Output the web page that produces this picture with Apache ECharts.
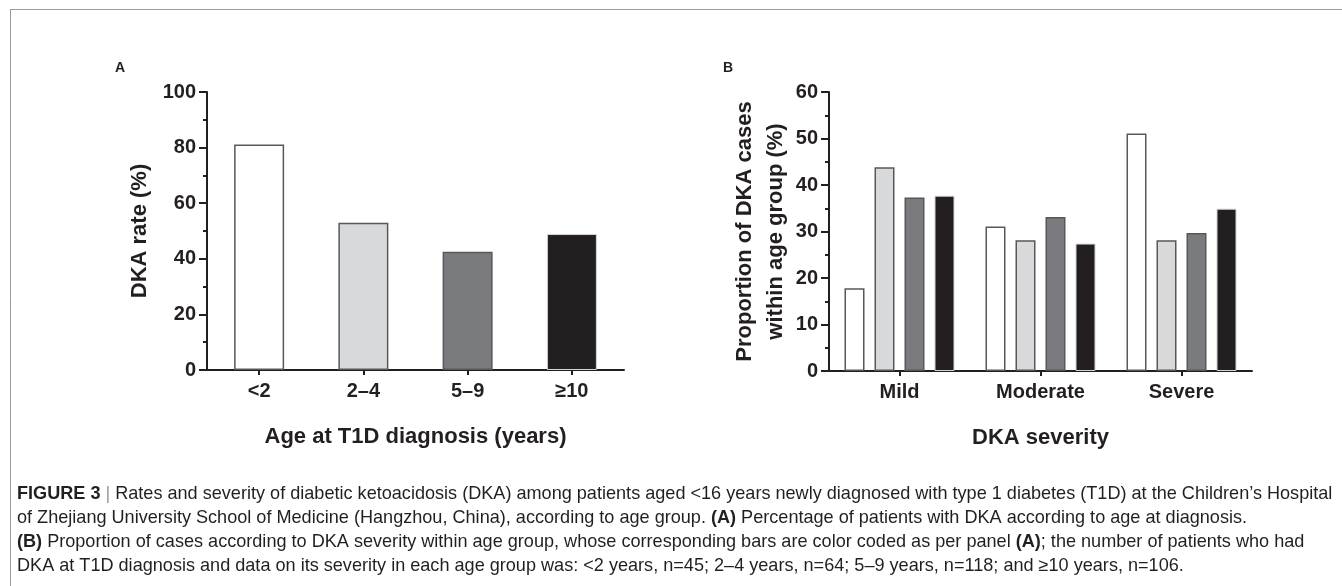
<!DOCTYPE html>
<html><head><meta charset="utf-8">
<script src="https://cdn.jsdelivr.net/npm/echarts@6/dist/echarts.min.js"></script>
<style>html,body{margin:0;padding:0;background:#fff;}#c{width:1342px;height:586px;}</style>
</head><body><div id="c"></div>
<script>
// ---- data ----
const ageGroups = ['<2', '2–4', '5–9', '≥10'];
const dkaRate = [81.1, 53.0, 42.5, 48.9];
const severities = ['Mild', 'Moderate', 'Severe'];
const propLt2 = [17.8, 31.1, 51.1];
const prop2to4 = [43.8, 28.1, 28.1];
const prop5to9 = [37.3, 33.1, 29.7];
const propGe10 = [37.7, 27.4, 34.9];
const yTicksA = [0, 20, 40, 60, 80, 100];
const yTicksB = [0, 10, 20, 30, 40, 50, 60];
const captionLines = [
  '{b|FIGURE 3} {bar||} Rates and severity of diabetic ketoacidosis (DKA) among patients aged <16 years newly diagnosed with type 1 diabetes (T1D) at the Children’s Hospital',
  'of Zhejiang University School of Medicine (Hangzhou, China), according to age group. {b|(A)} Percentage of patients with DKA according to age at diagnosis.',
  '{b|(B)} Proportion of cases according to DKA severity within age group, whose corresponding bars are color coded as per panel {b|(A)}; the number of patients who had',
  'DKA at T1D diagnosis and data on its severity in each age group was: <2 years, n=45; 2–4 years, n=64; 5–9 years, n=118; and ≥10 years, n=106.'
];

// ---- styles ----
const ink = '#231f20';
const fills = ['#ffffff', '#d8d9db', '#7a7b7f', '#231f20'];
const borders = ['#58585a', '#58585a', '#58585a', '#d4d4d4'];
const borderW = [1.5, 1.5, 1.5, 1];
const font = 'Liberation Sans, Arial, Helvetica, sans-serif';
const capSize = 18.1;

function valueAxis(idx, ticks, name, nameGap, lineHeight) {
  return {
    type: 'value', gridIndex: idx,
    min: ticks[0], max: ticks[ticks.length - 1], interval: ticks[1] - ticks[0],
    name: name, nameLocation: 'middle', nameGap: nameGap, nameRotate: 90,
    nameTextStyle: { fontFamily: font, fontWeight: 'bold', fontSize: 22, color: ink, lineHeight: lineHeight || 26 },
    axisLine: { show: true, lineStyle: { color: ink, width: 2 } },
    axisTick: { show: true, length: 8, lineStyle: { color: ink, width: 2 } },
    minorTick: { show: true, splitNumber: 2, length: 4, lineStyle: { color: ink, width: 2 } },
    axisLabel: { fontFamily: font, fontWeight: 'bold', fontSize: 20, color: ink, margin: 11 },
    splitLine: { show: false }, minorSplitLine: { show: false }
  };
}
function catAxis(idx, cats, name, nameGap) {
  return {
    type: 'category', gridIndex: idx, data: cats,
    name: name, nameLocation: 'middle', nameGap: nameGap,
    nameTextStyle: { fontFamily: font, fontWeight: 'bold', fontSize: 22, color: ink },
    axisLine: { show: true, lineStyle: { color: ink, width: 2 } },
    axisTick: { show: true, alignWithLabel: true, length: 5, lineStyle: { color: ink, width: 2 } },
    axisLabel: { fontFamily: font, fontWeight: 'bold', fontSize: 20, color: ink, margin: 11, interval: 0 },
    splitLine: { show: false }
  };
}

const seriesB = [propLt2, prop2to4, prop5to9, propGe10].map((vals, i) => ({
  type: 'bar', xAxisIndex: 1, yAxisIndex: 1, name: ageGroups[i], data: vals,
  barWidth: 20, barGap: '50%',
  itemStyle: { color: fills[i], borderColor: borders[i], borderWidth: borderW[i] },
  emphasis: { disabled: true }
}));

const graphics = [
  { type: 'line', shape: { x1: 10, y1: 9.5, x2: 1342, y2: 9.5 }, style: { stroke: '#9a9a9a', lineWidth: 1 } },
  { type: 'line', shape: { x1: 10.5, y1: 9, x2: 10.5, y2: 586 }, style: { stroke: '#9a9a9a', lineWidth: 1 } },
  { type: 'text', left: 115, top: 61, style: { text: 'A', font: 'bold 14px ' + font, fill: ink } },
  { type: 'text', left: 723, top: 61, style: { text: 'B', font: 'bold 14px ' + font, fill: ink } }
];
captionLines.forEach((ln, i) => {
  graphics.push({
    type: 'text', left: 17, top: 485 + i * 24,
    style: {
      text: ln, fill: ink, fontFamily: font, fontSize: capSize,
      rich: {
        b: { fontFamily: font, fontSize: capSize, fontWeight: 'bold', fill: ink },
        bar: { fontFamily: font, fontSize: capSize, fill: '#9a9a9a' }
      }
    }
  });
});

const chart = echarts.init(document.getElementById('c'), null, { renderer: 'canvas' });
chart.setOption({
  animation: false,
  backgroundColor: '#fff',
  grid: [
    { left: 207, top: 92, width: 417, height: 278 },
    { left: 829, top: 92, width: 423, height: 279 }
  ],
  xAxis: [
    catAxis(0, ageGroups, 'Age at T1D diagnosis (years)', 56),
    catAxis(1, severities, 'DKA severity', 56)
  ],
  yAxis: [
    valueAxis(0, yTicksA, 'DKA rate (%)', 54),
    valueAxis(1, yTicksB, 'Proportion of DKA cases\nwithin age group (%)', 36, 31)
  ],
  series: [
    {
      type: 'bar', xAxisIndex: 0, yAxisIndex: 0, barWidth: 50,
      data: dkaRate.map((v, i) => ({ value: v, itemStyle: { color: fills[i], borderColor: borders[i], borderWidth: borderW[i] } })),
      emphasis: { disabled: true }
    }
  ].concat(seriesB),
  graphic: graphics
});
</script></body></html>
